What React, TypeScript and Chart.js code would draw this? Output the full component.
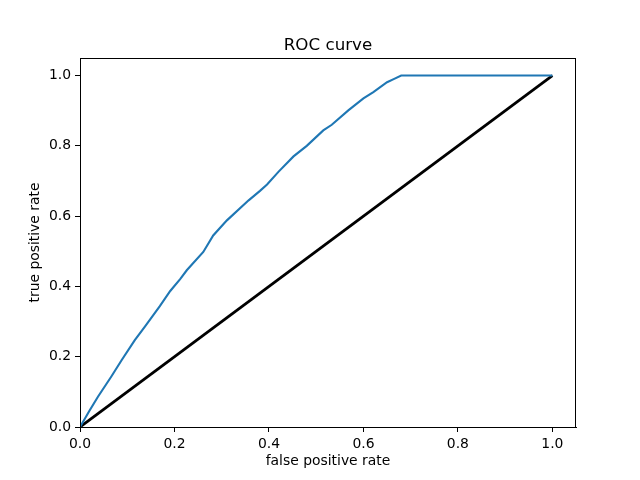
import React, { useEffect, useRef } from "react";
import { Chart, registerables } from "chart.js";

Chart.register(...registerables);

const rocFpr = [0, 0.02, 0.038, 0.066, 0.088, 0.116, 0.137, 0.169, 0.191, 0.212, 0.226, 0.261, 0.282, 0.311, 0.357, 0.381, 0.396, 0.42, 0.452, 0.48, 0.515, 0.533, 0.568, 0.6, 0.621, 0.65, 0.664, 0.68, 1.0];
const rocTpr = [0, 0.046, 0.086, 0.143, 0.19, 0.247, 0.285, 0.344, 0.387, 0.421, 0.446, 0.498, 0.545, 0.588, 0.645, 0.672, 0.69, 0.726, 0.77, 0.8, 0.844, 0.86, 0.901, 0.935, 0.953, 0.981, 0.99, 1.0, 1.0];
const diagX = [0, 1];
const diagY = [0, 1];
const tickValues = [0, 0.2, 0.4, 0.6, 0.8, 1.0];

const FONT = "'DejaVu Sans', sans-serif";

export default function App() {
  const ref = useRef<HTMLCanvasElement>(null);
  useEffect(() => {
    document.body.style.margin = "0";
    const ctx = ref.current!.getContext("2d")!;
    const framePlugin = {
      id: "frame",
      afterDraw(chart: any) {
        const { ctx, chartArea } = chart;
        const { left, right, top, bottom } = chartArea;
        ctx.save();
        ctx.strokeStyle = "#000";
        ctx.lineWidth = 1;
        ctx.strokeRect(Math.round(left) + 0.5, Math.round(top) + 0.5, Math.round(right - left) - 1, Math.round(bottom - top));
        ctx.fillStyle = "#000";
        ctx.textAlign = "center";
        ctx.font = `16.7px ${FONT}`;
        ctx.textBaseline = "alphabetic";
        ctx.fillText("ROC curve", (left + right) / 2, 50);
        ctx.font = `13.9px ${FONT}`;
        ctx.textBaseline = "top";
        ctx.fillText("false positive rate", (left + right) / 2, 454);
        ctx.translate(35, (top + bottom) / 2);
        ctx.rotate(-Math.PI / 2);
        ctx.textBaseline = "middle";
        ctx.fillText("true positive rate", 0, 0);
        ctx.restore();
      },
    };
    const axisCommon = {
      type: "linear" as const,
      min: 0,
      max: 1.05,
      grid: { drawOnChartArea: false, drawTicks: true, tickLength: 5, color: "#000", lineWidth: 1 },
      border: { display: true, color: "#000", width: 1 },
      ticks: {
        color: "#000",
        padding: 4,
        font: { family: FONT, size: 13.9 },
        callback: (v: any) => Number(v).toFixed(1),
      },
      afterBuildTicks: (scale: any) => {
        scale.ticks = tickValues.map((v) => ({ value: v }));
      },
    };
    const chart = new Chart(ctx, {
      type: "scatter",
      data: {
        datasets: [
          {
            data: rocFpr.map((x, i) => ({ x, y: rocTpr[i] })),
            showLine: true,
            borderColor: "#1f77b4",
            borderWidth: 2.1,
            pointRadius: 0,
            fill: false,
            tension: 0,
          },
          {
            data: diagX.map((x, i) => ({ x, y: diagY[i] })),
            showLine: true,
            borderColor: "#000",
            borderWidth: 2.8,
            pointRadius: 0,
            fill: false,
          },
        ],
      },
      options: {
        animation: false,
        responsive: false,
        layout: { padding: { top: 58, right: 64, left: 0, bottom: 0 } },
        plugins: { legend: { display: false }, tooltip: { enabled: false }, title: { display: false } },
        scales: {
          x: {
            ...axisCommon,
            position: "bottom",
            afterFit: (s: any) => {
              s.height = 53;
            },
          },
          y: {
            ...axisCommon,
            position: "left",
            afterFit: (s: any) => {
              s.width = 80;
            },
          },
        },
      },
      plugins: [framePlugin],
    });
    return () => chart.destroy();
  }, []);
  return (
    <div style={{ position: "absolute", left: 0, top: 0, width: 640, height: 480, background: "#fff" }}>
      <canvas ref={ref} width={640} height={480} style={{ width: 640, height: 480 }} />
    </div>
  );
}
